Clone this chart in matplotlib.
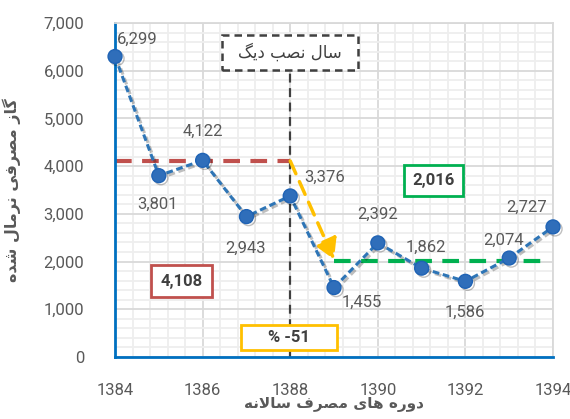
import matplotlib
matplotlib.use('Agg')
import matplotlib.pyplot as plt
import matplotlib.patheffects as pe
from matplotlib.patches import Rectangle
from matplotlib.ticker import MultipleLocator, FuncFormatter

plt.rcParams['font.family'] = ['Roboto', 'DejaVu Sans']

# --- Data ---
years = [1384, 1385, 1386, 1387, 1388, 1389, 1390, 1391, 1392, 1393, 1394]
gas_use = [6299, 3801, 4122, 2943, 3376, 1455, 2392, 1862, 1586, 2074, 2727]
install_year = 1388
x_ticks = [1384, 1386, 1388, 1390, 1392, 1394]

before = [v for y, v in zip(years, gas_use) if y <= install_year]
after = [v for y, v in zip(years, gas_use) if y > install_year]
avg_before = sum(before) / len(before)
avg_after = sum(after) / len(after)
change_pct = round((avg_after - avg_before) / avg_before * 100)

# label offsets in pixels (dx, dy, ha)
label_offsets = [(2, 17, 'left'), (-1, -29, 'center'), (0, 29, 'center'),
                 (-1, -32, 'center'), (34, 19, 'center'), (28, -15, 'center'),
                 (0, 29, 'center'), (4, 21, 'center'), (-1, -31, 'center'),
                 (-6, 18, 'center'), (-26, 20, 'center')]

TEXT = '#595959'
DARK = '#404040'
BLUE = '#2E75B6'
RED = '#C0504D'
GREEN = '#00B050'
YELLOW = '#FFC000'

# --- Minimal Persian shaping (matplotlib has no complex text layout) ---
FORMS = {
    'ا': ('\uFE8D', '\uFE8E', None, None),
    'ب': ('\uFE8F', '\uFE90', '\uFE91', '\uFE92'),
    'د': ('\uFEA9', '\uFEAA', None, None),
    'ر': ('\uFEAD', '\uFEAE', None, None),
    'ز': ('\uFEAF', '\uFEB0', None, None),
    'س': ('\uFEB1', '\uFEB2', '\uFEB3', '\uFEB4'),
    'ش': ('\uFEB5', '\uFEB6', '\uFEB7', '\uFEB8'),
    'ص': ('\uFEB9', '\uFEBA', '\uFEBB', '\uFEBC'),
    'ف': ('\uFED1', '\uFED2', '\uFED3', '\uFED4'),
    'ل': ('\uFEDD', '\uFEDE', '\uFEDF', '\uFEE0'),
    'م': ('\uFEE1', '\uFEE2', '\uFEE3', '\uFEE4'),
    'ن': ('\uFEE5', '\uFEE6', '\uFEE7', '\uFEE8'),
    'ه': ('\uFEE9', '\uFEEA', '\uFEEB', '\uFEEC'),
    'و': ('\uFEED', '\uFEEE', None, None),
    'ی': ('\uFBFC', '\uFBFD', '\uFBFE', '\uFBFF'),
    'گ': ('\uFB92', '\uFB93', '\uFB94', '\uFB95'),
}


def joins_next(ch):
    return ch in FORMS and FORMS[ch][2] is not None


def shape(text):
    out = []
    i = 0
    while i < len(text):
        ch = text[i]
        if ch not in FORMS:
            out.append(ch)
            i += 1
            continue
        prev = text[i - 1] if i > 0 else ''
        nxt = text[i + 1] if i + 1 < len(text) else ''
        linked = joins_next(prev)
        if ch == 'ل' and nxt == 'ا':
            out.append('\uFEFC' if linked else '\uFEFB')
            i += 2
            continue
        forward = joins_next(ch) and nxt in FORMS
        iso, fin, ini, med = FORMS[ch]
        if linked and forward:
            out.append(med)
        elif linked:
            out.append(fin)
        elif forward:
            out.append(ini)
        else:
            out.append(iso)
        i += 1
    return ''.join(reversed(out))


fig = plt.figure(figsize=(5.7, 4.19), dpi=100)
ax = fig.add_axes([0.2018, 0.148, 0.7684, 0.797])

ax.set_xlim(1384, 1394)
ax.set_ylim(0, 7000)
ax.xaxis.set_major_locator(MultipleLocator(2))
ax.xaxis.set_minor_locator(MultipleLocator(0.4))
ax.yaxis.set_major_locator(MultipleLocator(1000))
ax.yaxis.set_minor_locator(MultipleLocator(200))
ax.set_xticks(x_ticks)
ax.yaxis.set_major_formatter(FuncFormatter(lambda v, p: f'{int(v):,}'))
ax.grid(which='major', color='#D9D9D9', linewidth=1.3)
ax.grid(which='minor', color='#EEEEEE', linewidth=1.3)
ax.set_axisbelow(True)
ax.tick_params(which='both', length=0)
ax.tick_params(axis='y', labelsize=12, labelcolor=TEXT, pad=22)
ax.tick_params(axis='x', labelsize=12, labelcolor=TEXT, pad=19)

for side in ('left', 'bottom'):
    ax.spines[side].set_color('#0070C0')
    ax.spines[side].set_linewidth(2)
for side in ('top', 'right'):
    ax.spines[side].set_color('#D9D9D9')
    ax.spines[side].set_linewidth(1.3)

# average lines before / after installation
ax.plot([years[0], install_year], [avg_before, avg_before], color=RED,
        linewidth=3, dashes=(4, 2.5), zorder=2)
ax.plot([install_year + 1, years[-1] - 0.2], [avg_after, avg_after],
        color=GREEN, linewidth=3, dashes=(4, 2.5), zorder=2)

# installation marker
box_bottom = 6020
ax.plot([install_year, install_year], [0, box_bottom], color=DARK,
        linewidth=1.6, dashes=(4, 2.5), zorder=2)
ax.add_patch(Rectangle((install_year - 1.55, box_bottom), 3.1, 730,
                       facecolor='white', edgecolor=DARK, linewidth=1.8,
                       linestyle=(0, (3, 2)), zorder=3))
ax.text(install_year, box_bottom + 365, shape('سال نصب دیگ'), ha='center',
        va='center', fontsize=12, color=DARK, family='DejaVu Sans', zorder=4)

# drop arrow
ax.annotate('', xy=(install_year + 1, avg_after + 30),
            xytext=(install_year, avg_before),
            arrowprops=dict(arrowstyle='-|>,head_length=1.2,head_width=0.7',
                            color=YELLOW, linewidth=2.5,
                            linestyle=(0, (4, 2.5)), shrinkA=0, shrinkB=0),
            zorder=3)

# consumption series
ax.plot(years, gas_use, color=BLUE, linewidth=2.2, dashes=(2.2, 1.2),
        marker='o', markersize=10, markerfacecolor='#2F6EBA',
        markeredgecolor='#1F63B5', markeredgewidth=1, clip_on=False, zorder=5,
        path_effects=[pe.SimpleLineShadow(offset=(1.5, -1.5), alpha=0.25,
                                          shadow_color='#000000'),
                      pe.Normal()])

for x, v, (dx, dy, ha) in zip(years, gas_use, label_offsets):
    ax.annotate(f'{v:,}', (x, v), xytext=(dx, dy), textcoords='offset pixels',
                ha=ha, va='center', fontsize=12, color=TEXT, zorder=6)


def value_box(cx, cy, w, h, text, color):
    ax.add_patch(Rectangle((cx - w / 2, cy - h / 2), w, h, facecolor='white',
                           edgecolor=color, linewidth=2, zorder=6))
    ax.text(cx, cy, text, ha='center', va='center', fontsize=12,
            fontweight='bold', color=DARK, zorder=7)


value_box(1385.52, 1590, 1.38, 660, f'{avg_before:,.0f}', RED)
value_box(1391.27, 3700, 1.36, 650, f'{avg_after:,.0f}', GREEN)
value_box(install_year - 0.03, 410, 2.18, 520, f'% {change_pct}', YELLOW)

ax.set_ylabel(shape('گاز مصرفی نرمال شده'), fontsize=11.5, fontweight='bold',
              color=TEXT, family='DejaVu Sans', labelpad=16)
ax.set_xlabel(shape('دوره های مصرف سالانه'), fontsize=11, fontweight='bold',
              color=TEXT, family='DejaVu Sans', labelpad=-1)

fig.savefig('out.png', dpi=100)
